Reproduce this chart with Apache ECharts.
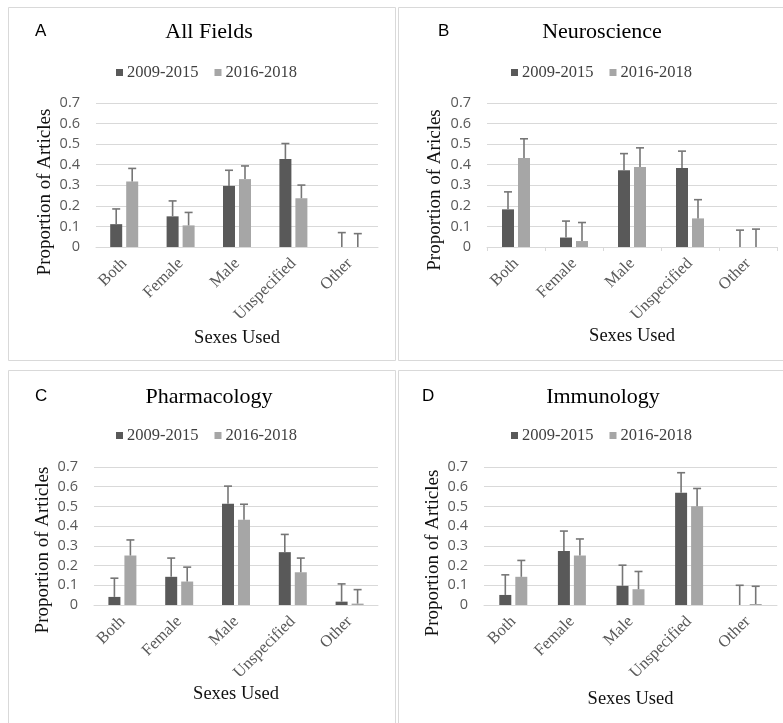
<!DOCTYPE html>
<html>
<head>
<meta charset="utf-8">
<script src="https://cdn.jsdelivr.net/npm/echarts@6/dist/echarts.min.js"></script>
<style>
  html, body { margin: 0; padding: 0; background: #fff; }
  #chart { width: 783px; height: 723px; }
</style>
</head>
<body>
<div id="chart"></div>
<script>
// Categories and series
const categories = ['Both', 'Female', 'Male', 'Unspecified', 'Other'];
const periods = ['2009-2015', '2016-2018'];
const yMin = 0, yMax = 0.7, yStep = 0.1;

// A: All Fields
const allEarly = [0.111, 0.149, 0.297, 0.428, 0];
const allLate = [0.319, 0.105, 0.330, 0.237, 0];
const allEarlyErr = [0.074, 0.075, 0.076, 0.075, 0.070];
const allLateErr = [0.063, 0.063, 0.064, 0.064, 0.065];

// B: Neuroscience
const neuroEarly = [0.183, 0.046, 0.373, 0.384, 0];
const neuroLate = [0.433, 0.029, 0.389, 0.139, 0];
const neuroEarlyErr = [0.085, 0.080, 0.081, 0.082, 0.082];
const neuroLateErr = [0.093, 0.090, 0.093, 0.091, 0.087];

// C: Pharmacology
const pharmEarly = [0.041, 0.143, 0.513, 0.268, 0.017];
const pharmLate = [0.251, 0.119, 0.433, 0.166, 0.007];
const pharmEarlyErr = [0.095, 0.095, 0.090, 0.090, 0.090];
const pharmLateErr = [0.079, 0.073, 0.078, 0.072, 0.071];

// D: Immunology
const immunoEarly = [0.051, 0.274, 0.097, 0.569, 0];
const immunoLate = [0.143, 0.251, 0.080, 0.501, 0.005];
const immunoEarlyErr = [0.102, 0.101, 0.105, 0.102, 0.100];
const immunoLateErr = [0.083, 0.084, 0.090, 0.090, 0.090];

const panelTitles = ['All Fields', 'Neuroscience', 'Pharmacology', 'Immunology'];
const panelLetters = ['A', 'B', 'C', 'D'];
const yTitles = ['Proportion of Articles', 'Proportion of Aricles', 'Proportion of Articles', 'Proportion of Articles'];
const xTitle = 'Sexes Used';

const panelData = [
  [allEarly, allLate, allEarlyErr, allLateErr],
  [neuroEarly, neuroLate, neuroEarlyErr, neuroLateErr],
  [pharmEarly, pharmLate, pharmEarlyErr, pharmLateErr],
  [immunoEarly, immunoLate, immunoEarlyErr, immunoLateErr]
];

// Layout of the four panels
const layout = [
  { box: [8.5, 7.5, 387, 353], grid: { left: 96, right: 405, top: 103, bottom: 476 }, title: [204, 16], letter: [30, 18], legend: [111, 59], yTitle: [45, 192], xGap: 82, ticks: false },
  { box: [398.5, 7.5, 390, 353], grid: { left: 487, right: 6, top: 103, bottom: 476 }, title: [597, 16], letter: [433, 18], legend: [506, 59], yTitle: [435, 190], xGap: 77, ticks: true },
  { box: [8.5, 370.5, 387, 360], grid: { left: 94, right: 405, top: 467, bottom: 118 }, title: [204, 381], letter: [30, 383], legend: [111, 422], yTitle: [43, 550], xGap: 78, ticks: false },
  { box: [398.5, 370.5, 390, 360], grid: { left: 484, right: 6, top: 467, bottom: 118 }, title: [598, 381], letter: [417, 383], legend: [506, 422], yTitle: [433, 553], xGap: 85, ticks: false }
];

const DARK = '#595959', LIGHT = '#a6a6a6', ERR = '#767676', GRID = '#d9d9d9';
const SERIF = '"Liberation Serif", "Times New Roman", serif';
const SANS = '"Open Sans", sans-serif';
const BAR_W = 12, BAR_GAP_PX = 4, CAP_HALF = 4;

function errorBarSeries(idx, vals, errs, slot) {
  const data = vals.map((v, i) => [i, v, v + errs[i]]);
  const shift = (slot === 0 ? -1 : 1) * (BAR_W + BAR_GAP_PX) / 2;
  return {
    type: 'custom',
    name: 'err' + idx + '-' + slot,
    xAxisIndex: idx,
    yAxisIndex: idx,
    silent: true,
    z: 5,
    encode: { x: 0, y: [1, 2] },
    data: data,
    renderItem: function (params, api) {
      const c = api.value(0);
      const lo = api.coord([c, api.value(1)]);
      const hi = api.coord([c, api.value(2)]);
      const x = lo[0] + shift;
      return {
        type: 'group',
        children: [
          { type: 'line', shape: { x1: x, y1: lo[1], x2: x, y2: hi[1] }, style: { stroke: ERR, lineWidth: 1.6 } },
          { type: 'line', shape: { x1: x - CAP_HALF, y1: hi[1], x2: x + CAP_HALF, y2: hi[1] }, style: { stroke: ERR, lineWidth: 1.6 } }
        ]
      };
    }
  };
}

const grids = [], xAxes = [], yAxes = [], series = [], titles = [], legends = [], graphics = [];

layout.forEach((L, i) => {
  grids.push(Object.assign({ containLabel: false }, L.grid));
  xAxes.push({
    type: 'category',
    gridIndex: i,
    data: categories,
    axisLine: { show: true, lineStyle: { color: GRID, width: 1 } },
    axisTick: { show: L.ticks, length: 4, lineStyle: { color: GRID } },
    axisLabel: { interval: 0, rotate: 45, margin: 14, color: '#595959', fontFamily: SERIF, fontSize: 16.5 },
    name: xTitle,
    nameLocation: 'middle',
    nameGap: L.xGap,
    nameTextStyle: { color: '#111', fontFamily: SERIF, fontSize: 18.5 }
  });
  yAxes.push({
    type: 'value',
    gridIndex: i,
    min: yMin, max: yMax, interval: yStep,
    axisLine: { show: false },
    axisTick: { show: false },
    splitLine: { lineStyle: { color: GRID, width: 1 } },
    axisLabel: { color: '#595959', fontFamily: SANS, fontSize: 14.5, margin: 16 }
  });
  const d = panelData[i];
  series.push({
    type: 'bar', name: periods[0], xAxisIndex: i, yAxisIndex: i,
    data: d[0], barWidth: BAR_W, barGap: (BAR_GAP_PX / BAR_W * 100) + '%',
    itemStyle: { color: DARK }
  });
  series.push({
    type: 'bar', name: periods[1], xAxisIndex: i, yAxisIndex: i,
    data: d[1], barWidth: BAR_W, barGap: (BAR_GAP_PX / BAR_W * 100) + '%',
    itemStyle: { color: LIGHT }
  });
  series.push(errorBarSeries(i, d[0], d[2], 0));
  series.push(errorBarSeries(i, d[1], d[3], 1));

  titles.push({
    text: panelTitles[i], left: L.title[0], top: L.title[1], textAlign: 'center',
    textStyle: { fontFamily: SERIF, fontSize: 22, fontWeight: 'normal', color: '#000' }
  });
  titles.push({
    text: panelLetters[i], left: L.letter[0], top: L.letter[1],
    textStyle: { fontFamily: '"Liberation Sans", Arial, sans-serif', fontSize: 17, fontWeight: 'normal', color: '#000' }
  });
  legends.push({
    data: periods, left: L.legend[0], top: L.legend[1],
    icon: 'rect', itemWidth: 7, itemHeight: 7, itemGap: 16, selectedMode: false,
    textStyle: { fontFamily: SERIF, fontSize: 16.5, color: '#404040', padding: [0, 0, 0, -1] }
  });
  graphics.push({
    type: 'rect', shape: { x: L.box[0], y: L.box[1], width: L.box[2], height: L.box[3] },
    style: { fill: 'none', stroke: GRID, lineWidth: 1 }, silent: true, z: -10
  });
  graphics.push({
    type: 'text', x: L.yTitle[0], y: L.yTitle[1], rotation: Math.PI / 2,
    style: { text: yTitles[i], fontFamily: SERIF, fontSize: 19, fill: '#111', textAlign: 'center', textVerticalAlign: 'middle' },
    silent: true
  });
});

const chart = echarts.init(document.getElementById('chart'), null, { renderer: 'canvas' });
chart.setOption({
  animation: false,
  backgroundColor: '#fff',
  title: titles,
  legend: legends,
  grid: grids,
  xAxis: xAxes,
  yAxis: yAxes,
  series: series,
  graphic: graphics
});
</script>
</body>
</html>
